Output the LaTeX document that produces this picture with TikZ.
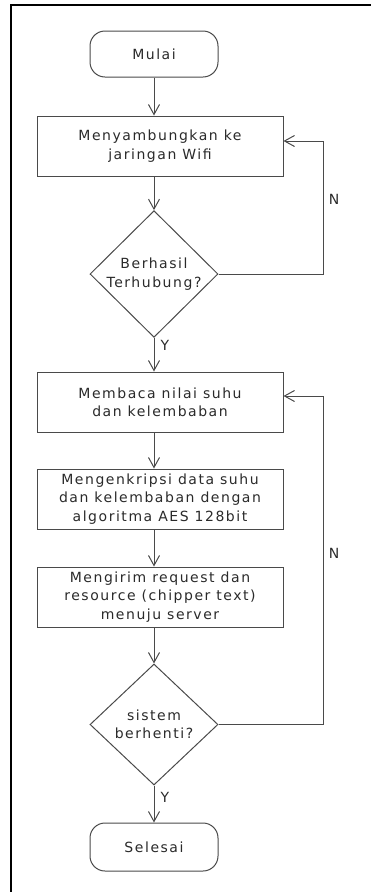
\documentclass[tikz,border=0pt]{standalone}
\usepackage{fontspec}
\setmainfont{DejaVu Sans}[LetterSpace=11]
\usetikzlibrary{shapes.geometric,arrows.meta}
\definecolor{linegray}{HTML}{4A4A4A}
\definecolor{inkgray}{HTML}{2A2A2A}
\begin{document}
\begin{tikzpicture}[x=1pt,y=-1pt,
  every node/.style={text=inkgray,font=\fontsize{14}{18.3}\selectfont},
  terminal/.style={draw=linegray,line width=1pt,rounded corners=15pt,minimum width=128pt,inner sep=0pt,align=center},
  process/.style={draw=linegray,line width=1pt,minimum width=246pt,minimum height=60pt,inner sep=0pt,align=center},
  decision/.style={draw=linegray,line width=1pt,diamond,minimum width=128pt,minimum height=120pt,inner sep=0pt,align=center},
  flow/.style={draw=linegray,line width=1pt,-{Straight Barb[length=10pt,width=11pt]}},
  link/.style={draw=linegray,line width=1pt},
  tag/.style={inner sep=0pt}]
\useasboundingbox (0,0) rectangle (371,892);
% outer frame (clipped at the right and bottom)
\draw[black,line width=2pt] (10.5,900) -- (10.5,4.5) -- (380,4.5);

% nodes
\node[terminal,minimum height=46pt] (start) at (154,54) {Mulai};
\node[process] (wifi) at (160,146) {Menyambungkan ke\\jaringan Wifi};
\node[decision] (conn) at (154,274) {Berhasil\\Terhubung?};
\node[process] (read) at (160,402) {Membaca nilai suhu\\dan kelembaban};
\node[process] (enc) at (160,499) {Mengenkripsi data suhu\\dan kelembaban dengan\\algoritma AES 128bit};
\node[process] (send) at (160,597) {Mengirim request dan\\resource (chipper text)\\menuju server};
\node[decision,minimum height=121pt] (stop) at (154,724.5) {sistem\\berhenti?};
\node[terminal,minimum height=48pt] (end) at (154,847) {Selesai};

% loop corners
\coordinate (c1b) at (323,274);
\coordinate (c1t) at (323,141);
\coordinate (c2b) at (323,724.5);
\coordinate (c2t) at (323,396);

% connectors
\draw[flow] (start.south) -- (start.south |- wifi.north);
\draw[flow] (start.south |- wifi.south) -- (conn.north);
\draw[flow] (conn.south) -- (conn.south |- read.north);
\draw[flow] (conn.south |- read.south) -- (conn.south |- enc.north);
\draw[flow] (conn.south |- enc.south) -- (conn.south |- send.north);
\draw[flow] (conn.south |- send.south) -- (stop.north);
\draw[flow] (stop.south) -- (end.north);
\draw[link] (conn.east) -- (c1b) -- (c1t);
\draw[flow] (c1t) -- (c1t -| wifi.east);
\draw[link] (stop.east) -- (c2b) -- (c2t);
\draw[flow] (c2t) -- (c2t -| read.east);

% branch labels
\node[tag] (n1) at (334,199) {N};
\node[tag] (y1) at (165,345) {Y};
\node[tag] (n2) at (334,553) {N};
\node[tag] (y2) at (165,797) {Y};
\end{tikzpicture}
\end{document}
